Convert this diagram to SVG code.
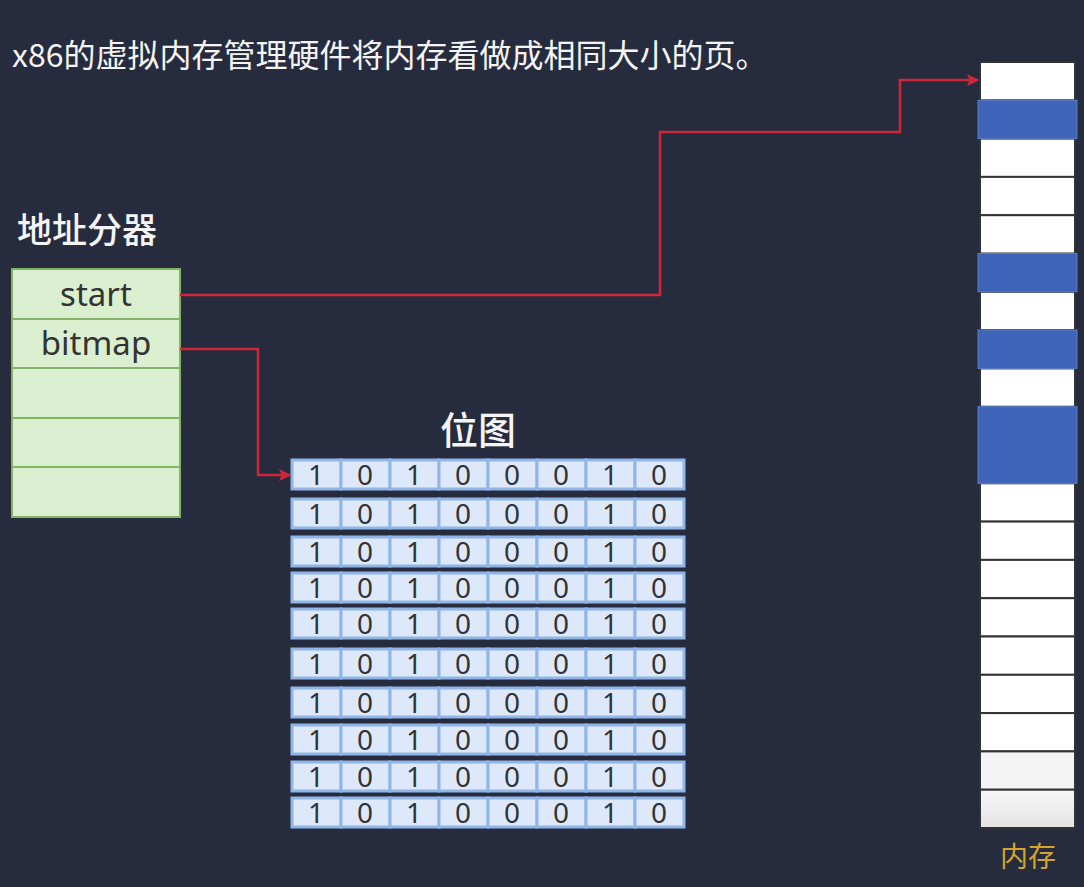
<svg xmlns="http://www.w3.org/2000/svg" width="1084" height="887" viewBox="0 0 1084 887">
<style>
.cjk{font-family:"Noto Sans CJK SC","Noto Sans",sans-serif;}
.title{fill:#f4f4f4;font-size:32px;}
.head{fill:#f4f4f4;font-size:35px;font-weight:500;}
.cell{fill:#d9efcf;stroke:#82b366;stroke-width:2;}
.ctext{font-family:"Noto Sans","Open Sans",sans-serif;font-size:33px;fill:#333;text-anchor:middle;}
.bit{fill:#dde9fa;stroke:#8fb6e6;stroke-width:3;}
.btext{font-family:"Noto Sans","Open Sans",sans-serif;font-size:28px;fill:#333;text-anchor:middle;}
.mem{fill:#ffffff;stroke:#333;stroke-width:2;}
.memb{fill:#3d64b8;stroke:#5a7fc8;stroke-width:1;}
.conn{fill:none;stroke:#d0263a;stroke-width:2.5;}
</style>
<defs>
<marker id="arr" viewBox="0 0 10 10" refX="9" refY="5" markerWidth="5" markerHeight="5" orient="auto" markerUnits="strokeWidth">
<path d="M0,0 L10,5 L0,10 L2.5,5 Z" fill="#d0263a"/>
</marker>
<linearGradient id="fade" x1="0" y1="0" x2="0" y2="1">
<stop offset="0" stop-color="#f6f6f6"/>
<stop offset="1" stop-color="#e4e4e4"/>
</linearGradient>
<g id="row">
<rect class="bit" x="292" y="0" width="49" height="29"/>
<rect class="bit" x="341" y="0" width="49" height="29"/>
<rect class="bit" x="390" y="0" width="49" height="29"/>
<rect class="bit" x="439" y="0" width="49" height="29"/>
<rect class="bit" x="488" y="0" width="49" height="29"/>
<rect class="bit" x="537" y="0" width="49" height="29"/>
<rect class="bit" x="586" y="0" width="49" height="29"/>
<rect class="bit" x="635" y="0" width="49" height="29"/>
<text class="btext" x="316" y="25">1</text>
<text class="btext" x="365" y="25">0</text>
<text class="btext" x="414" y="25">1</text>
<text class="btext" x="463" y="25">0</text>
<text class="btext" x="512" y="25">0</text>
<text class="btext" x="561" y="25">0</text>
<text class="btext" x="610" y="25">1</text>
<text class="btext" x="659" y="25">0</text>
</g>
</defs>
<rect width="1084" height="887" fill="#272b3e"/>

<text class="cjk title" x="12" y="67">x86的虚拟内存管理硬件将内存看做成相同大小的页。</text>

<g id="allocator">
<text class="cjk head" x="17" y="243">地址分器</text>
<rect class="cell" x="12" y="269" width="168" height="50"/>
<rect class="cell" x="12" y="319" width="168" height="49"/>
<rect class="cell" x="12" y="368" width="168" height="50"/>
<rect class="cell" x="12" y="418" width="168" height="49"/>
<rect class="cell" x="12" y="467" width="168" height="50"/>
<text class="ctext" x="96" y="306">start</text>
<text class="ctext" x="96" y="355">bitmap</text>
</g>

<g id="bitmap">
<text class="cjk head" x="478" y="444" text-anchor="middle" style="font-size:38px">位图</text>
<use href="#row" y="460"/>
<use href="#row" y="499"/>
<use href="#row" y="537"/>
<use href="#row" y="573"/>
<use href="#row" y="609"/>
<use href="#row" y="649"/>
<use href="#row" y="688"/>
<use href="#row" y="725"/>
<use href="#row" y="762"/>
<use href="#row" y="798"/>
</g>

<g id="memory">
<rect class="mem" x="980" y="62" width="95" height="38.3"/>
<rect class="mem" x="980" y="138.6" width="95" height="38.3"/>
<rect class="mem" x="980" y="176.9" width="95" height="38.3"/>
<rect class="mem" x="980" y="215.2" width="95" height="38.3"/>
<rect class="mem" x="980" y="291.8" width="95" height="38.3"/>
<rect class="mem" x="980" y="368.4" width="95" height="38.3"/>
<rect class="mem" x="980" y="483.3" width="95" height="38.3"/>
<rect class="mem" x="980" y="521.6" width="95" height="38.3"/>
<rect class="mem" x="980" y="559.9" width="95" height="38.3"/>
<rect class="mem" x="980" y="598.2" width="95" height="38.3"/>
<rect class="mem" x="980" y="636.5" width="95" height="38.3"/>
<rect class="mem" x="980" y="674.8" width="95" height="38.3"/>
<rect class="mem" x="980" y="713.1" width="95" height="38.3"/>
<rect class="mem" x="980" y="751.4" width="95" height="38.3" style="fill:#f4f4f4"/>
<rect class="mem" x="980" y="789.7" width="95" height="38.3" style="fill:url(#fade)"/>
<rect class="memb" x="978" y="100.3" width="99" height="38.3"/>
<rect class="memb" x="978" y="253.5" width="99" height="38.3"/>
<rect class="memb" x="978" y="330.1" width="99" height="38.3"/>
<rect class="memb" x="978" y="406.7" width="99" height="76.6"/>
<text class="cjk" x="1028" y="867" text-anchor="middle" style="font-size:28px;fill:#d4a52a">内存</text>
</g>

<g id="connectors">
<path class="conn" d="M180,295 H660 V132 H900 V80 H978" marker-end="url(#arr)"/>
<path class="conn" d="M180,349 H258 V475 H290" marker-end="url(#arr)"/>
</g>
</svg>
